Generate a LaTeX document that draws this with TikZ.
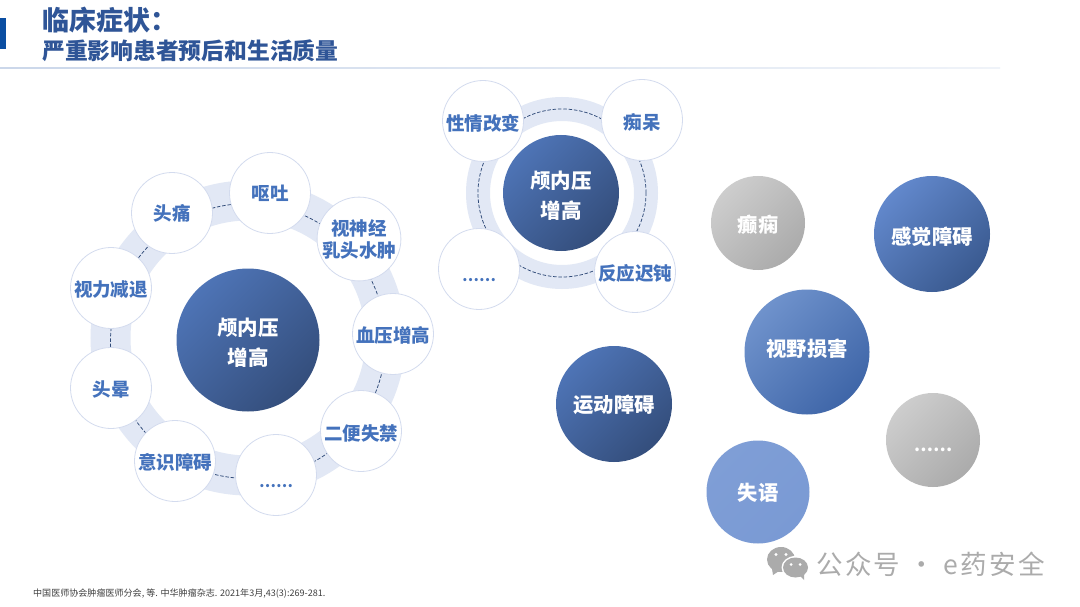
\documentclass[tikz,border=0pt]{standalone}
\usepackage{fontspec}
\setmainfont{Noto Sans CJK SC}
\newfontfamily\wmfont[LetterSpace=9]{Noto Sans CJK SC}
\definecolor{titleblue}{HTML}{2F5597}
\definecolor{labelblue}{HTML}{4472BC}
\definecolor{ringfill}{HTML}{E2E8F5}
\definecolor{dashnavy}{HTML}{2F4A78}
\definecolor{rimblue}{HTML}{D3DBEE}
\definecolor{barblue}{HTML}{0B4EA2}
\definecolor{rulecol}{HTML}{CBD7EA}
\definecolor{wmgray}{HTML}{ABABAB}
\definecolor{srcgray}{HTML}{404040}
\definecolor{hubtop}{HTML}{4E74B6}
\definecolor{hubmid}{HTML}{2F5595}
\definecolor{hubbot}{HTML}{344E7C}
\definecolor{greytop}{HTML}{CDCDCD}
\definecolor{greymid}{HTML}{BDBDBD}
\definecolor{greybot}{HTML}{ABABAB}
\definecolor{sensetop}{HTML}{6288CC}
\definecolor{sensemid}{HTML}{4470BE}
\definecolor{sensebot}{HTML}{3A5A90}
\definecolor{fieldtop}{HTML}{6F92CC}
\definecolor{fieldmid}{HTML}{5A80C0}
\definecolor{fieldbot}{HTML}{3F66A8}
\definecolor{speechtop}{HTML}{7F9ED6}
\definecolor{speechmid}{HTML}{8CA8DC}
\definecolor{speechbot}{HTML}{7A9AD4}
\tikzset{
  ringband/.style={draw=ringfill,line width=#1},
  dashring/.style={draw=dashnavy,line width=0.75pt,dash pattern=on 3.5pt off 1.8pt},
  item/.style={circle,draw=rimblue,line width=0.8pt,fill=white,minimum size=81pt,inner sep=0pt,align=center,
    text=labelblue,text height=19pt,font=\fontsize{18.5}{22}\selectfont\bfseries},
  orb/.style={circle,minimum size=#1,inner sep=0pt,align=center,text=white,
    text height=20pt,font=\fontsize{20.3}{30}\selectfont\bfseries},
  hubpaint/.style={top color=hubtop,middle color=hubmid,bottom color=hubbot,shading angle=45},
  sensepaint/.style={top color=sensetop,middle color=sensemid,bottom color=sensebot,shading angle=45},
  fieldpaint/.style={top color=fieldtop,middle color=fieldmid,bottom color=fieldbot,shading angle=45},
  speechpaint/.style={top color=speechtop,middle color=speechmid,bottom color=speechbot,shading angle=45},
  greypaint/.style={top color=greytop,middle color=greymid,bottom color=greybot,shading angle=45},
  hub/.style={orb=#1,hubpaint,text height=53pt,font=\fontsize{20.5}{30}\selectfont\bfseries},
}
\newcommand{\dotsrow}[2]{\raisebox{#2}{\fontsize{#1}{#1}\selectfont ……}}
\begin{document}
\begin{tikzpicture}[x=1pt,y=-1pt]
\useasboundingbox (0,0) rectangle (1080,607);
\fill[white] (0,0) rectangle (1080,607);
% header
\fill[barblue] (0,18) rectangle (6,49);
\fill[left color=rulecol,middle color=rulecol!85,right color=rulecol!30] (0,68) rectangle (1000,69);
\node[anchor=west,inner sep=0pt,text=titleblue,font=\fontsize{27}{30}\selectfont\bfseries] (title) at (42,20.5) {临床症状：};
\node[anchor=west,inner sep=0pt,text=titleblue,font=\fontsize{22.8}{26}\selectfont\bfseries] (subtitle) at (42,51) {严重影响患者预后和生活质量};
% left ring
\coordinate (lc) at (248,338);
\coordinate (ld) at (248,341);
\draw[ringband=40pt] (lc) circle (137.5pt);
\draw[dashring] (ld) circle (137.5pt);
\node[hub=143pt] (lhub) at (248,340) {颅内压\\增高};
\node[item,text height=16pt] (l1) at (270,193) {呕吐};
\node[item,text height=16pt] (l2) at (172,213) {头痛};
\node[item] (l3) at (111,288) {视力减退};
\node[item] (l4) at (111,388) {头晕};
\node[item] (l5) at (175,461) {意识障碍};
\node[item] (l6) at (276,475) {\dotsrow{15}{-6pt}};
\node[item,text height=20pt] (l7) at (361,431) {二便失禁};
\node[item] (l8) at (393,334) {血压增高};
\node[item,text height=38pt] (l9) at (359,239) {视神经\\乳头水肿};
% top ring
\coordinate (tc) at (562,193);
\draw[ringband=24pt] (tc) circle (84pt);
\draw[dashring] (tc) circle (84pt);
\node[hub=116pt] (thub) at (561,193) {颅内压\\增高};
\node[item,text height=20pt] (t1) at (483,121) {性情改变};
\node[item,text height=20pt] (t2) at (642,120) {痴呆};
\node[item] (t3) at (479,269) {\dotsrow{15}{-6pt}};
\node[item] (t4) at (635,272) {反应迟钝};
% right orbs
\node[orb=94pt,greypaint] (r1) at (758,223) {癫痫};
\node[orb=116pt,sensepaint,text height=22pt] (r2) at (932,234) {感觉障碍};
\node[orb=125pt,fieldpaint,text height=12pt] (r3) at (807,352) {视野损害};
\node[orb=94pt,greypaint] (r4) at (933,440) {\dotsrow{17}{-3pt}};
\node[orb=116pt,hubpaint] (r5) at (614,404) {运动障碍};
\node[orb=103pt,speechpaint,text height=18pt] (r6) at (758,492) {失语};
% source
\node[anchor=west,inner sep=0pt,text=srcgray,font=\fontsize{9.05}{10}\selectfont] (src) at (33,594) {中国医师协会肿瘤医师分会, 等. 中华肿瘤杂志. 2021年3月,43(3):269-281.};
% watermark
\fill[wmgray] (781,559.5) ellipse (14pt and 12.5pt);
\fill[wmgray] (772,569) -- (773,575) -- (779,571) -- cycle;
\fill[white] (776,554.5) circle (1.7pt) (786,554.5) circle (1.7pt);
\fill[white] (795.5,567.5) ellipse (14pt and 11.5pt);
\fill[wmgray] (795.5,567.5) ellipse (12.5pt and 10pt);
\fill[wmgray] (800,576) -- (804,580) -- (804,573) -- cycle;
\fill[white] (791,564.5) circle (1.5pt) (800,564.5) circle (1.5pt);
\node[anchor=west,inner sep=0pt,text=wmgray,font=\fontsize{26.5}{30}\selectfont\wmfont] (wm) at (816,564) {公众号 · e药安全};
\end{tikzpicture}
\end{document}
